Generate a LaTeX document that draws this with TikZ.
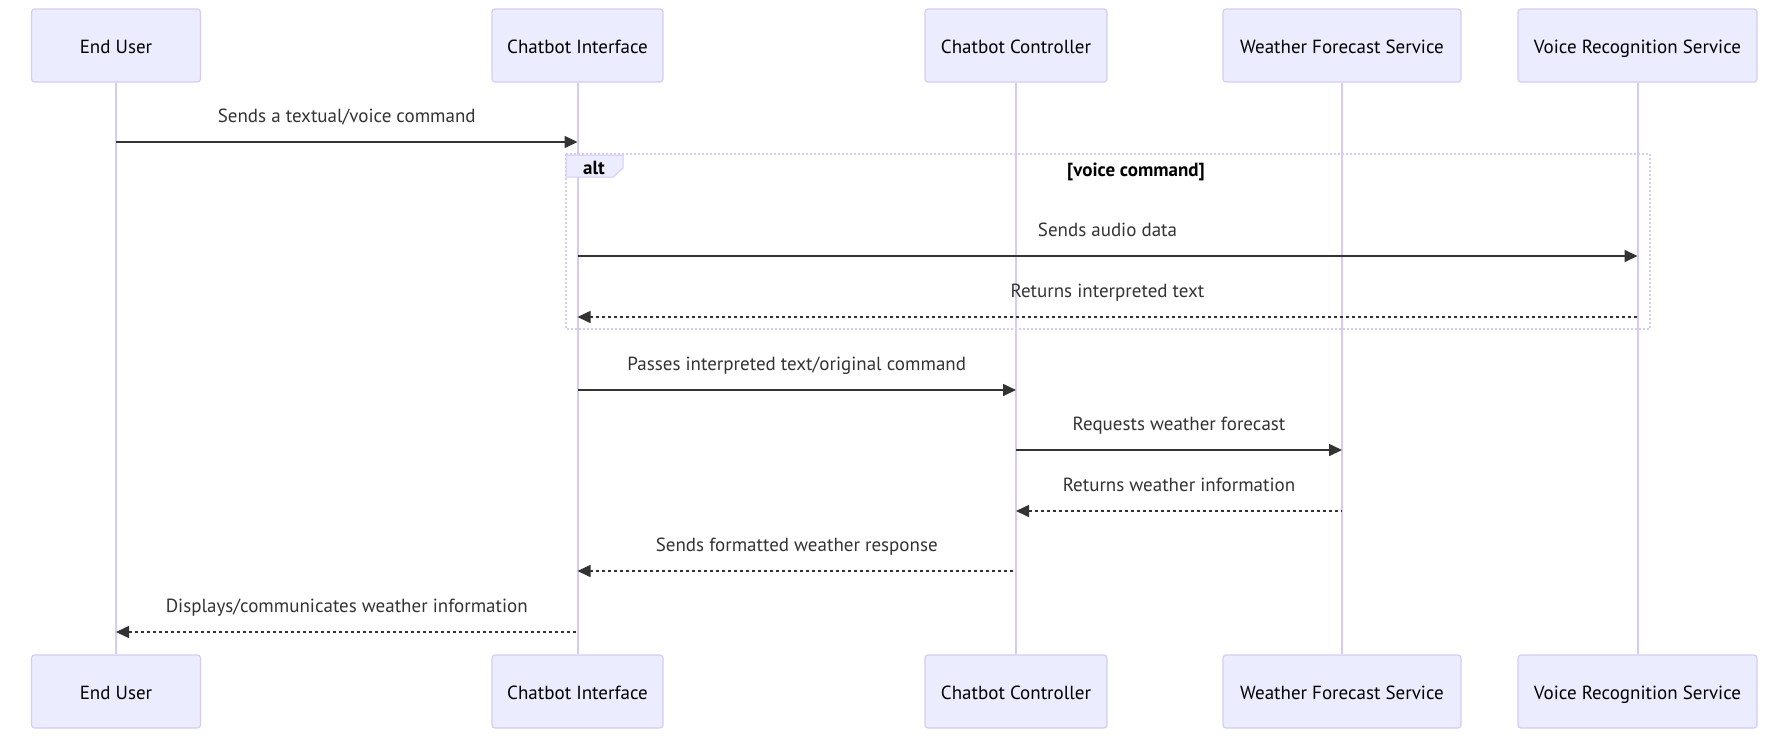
\documentclass[tikz,border=0pt]{standalone}
\usepackage{fontspec}
\setmainfont{PT Sans}
\usepackage{tikz}
\usetikzlibrary{arrows.meta}
\usetikzlibrary{positioning}
\definecolor{actfill}{HTML}{ECECFF}
\definecolor{actline}{HTML}{D6CCF3}
\definecolor{msgcol}{HTML}{333333}

\begin{document}
\begin{tikzpicture}
    [
    x=1pt, y=-1pt,
    actor/.style={draw=actline, fill=actfill, line width=1.2pt, rounded corners=3pt,
      minimum height=73pt, inner sep=0pt, text height=16pt, text depth=0pt,
      font=\fontsize{19}{22}\selectfont},
    life/.style={draw=actline, line width=2pt},
    msg/.style={draw=msgcol, line width=1.6pt, -{Triangle[length=13pt,width=12pt]}},
    reply/.style={msg, dash pattern=on 3pt off 3pt},
    msglabel/.style={text=msgcol, font=\fontsize{19}{22}\selectfont, inner sep=0pt,
      text height=13pt, text depth=4pt},
    altbox/.style={draw=actline, line width=2pt, dash pattern=on 2pt off 2pt},
    ]
    \useasboundingbox (0,0) rectangle (1786,737);

    \node (user) at (116,45.5) [actor, minimum width=169pt] {End User};
    \node (ui) at (577.5,45.5) [actor, minimum width=171pt] {Chatbot Interface};
    \node (ctrl) at (1016,45.5) [actor, minimum width=182pt] {Chatbot Controller};
    \node (wfs) at (1342,45.5) [actor, minimum width=238pt] {Weather Forecast Service};
    \node (vrs) at (1637.5,45.5) [actor, minimum width=239pt] {Voice Recognition Service};

    \node (userB) at (116,691.5) [actor, minimum width=169pt] {End User};
    \node (uiB) at (577.5,691.5) [actor, minimum width=171pt] {Chatbot Interface};
    \node (ctrlB) at (1016,691.5) [actor, minimum width=182pt] {Chatbot Controller};
    \node (wfsB) at (1342,691.5) [actor, minimum width=238pt] {Weather Forecast Service};
    \node (vrsB) at (1637.5,691.5) [actor, minimum width=239pt] {Voice Recognition Service};

    \draw [life] (user.south) to (userB.north);
    \draw [life] (ui.south) to (uiB.north);
    \draw [life] (ctrl.south) to (ctrlB.north);
    \draw [life] (wfs.south) to (wfsB.north);
    \draw [life] (vrs.south) to (vrsB.north);

    % alt block
    \draw [altbox] (566,154) rectangle (1650,329);
    \draw [draw=actline, fill=actfill, line width=1pt]
      (566,155) -- (623,155) -- (623,168) -- (613,177) -- (566,177) -- cycle;
    \node (alt) at (594,170) [msglabel, text=black, font=\fontsize{19}{22}\selectfont\bfseries] {alt};
    \node (cond) at (1136,172) [msglabel, text=black, font=\fontsize{19}{22}\selectfont\bfseries] {[voice command]};

    \coordinate (r1) at (0,142);
    \coordinate (r2) at (0,256);
    \coordinate (r3) at (0,317);
    \coordinate (r4) at (0,390);
    \coordinate (r5) at (0,450);
    \coordinate (r6) at (0,511);
    \coordinate (r7) at (0,571);
    \coordinate (r8) at (0,632);

    \draw [msg] (user |- r1) to node [msglabel, above=15pt] {Sends a textual/voice command} (ui |- r1);
    \draw [msg] (ui |- r2) to node [msglabel, above=15pt] {Sends audio data} (vrs |- r2);
    \draw [reply, {Triangle[length=13pt,width=12pt]}-] (ui |- r3) to node [msglabel, above=15pt] {Returns interpreted text} (vrs |- r3);
    \draw [msg] (ui |- r4) to node [msglabel, above=15pt] {Passes interpreted text/original command} (ctrl |- r4);
    \draw [msg] (ctrl |- r5) to node [msglabel, above=15pt] {Requests weather forecast} (wfs |- r5);
    \draw [reply, {Triangle[length=13pt,width=12pt]}-] (ctrl |- r6) to node [msglabel, above=15pt] {Returns weather information} (wfs |- r6);
    \draw [reply, {Triangle[length=13pt,width=12pt]}-] (ui |- r7) to node [msglabel, above=15pt] {Sends formatted weather response} (ctrl |- r7);
    \draw [reply, {Triangle[length=13pt,width=12pt]}-] (user |- r8) to node [msglabel, above=15pt] {Displays/communicates weather information} (ui |- r8);
  \end{tikzpicture}
\end{document}
